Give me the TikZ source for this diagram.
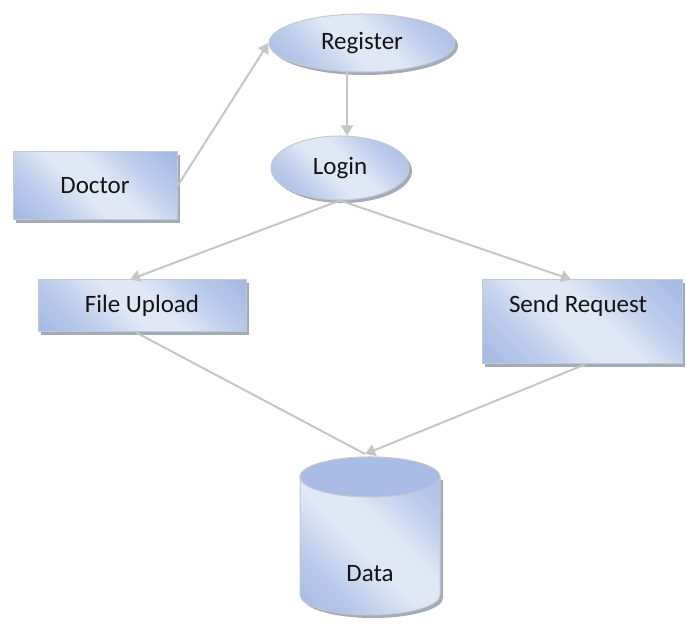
\documentclass[tikz,border=0pt]{standalone}
\usepackage{fontspec}
\setmainfont{Carlito}
\usetikzlibrary{shapes.geometric,arrows.meta,shadows}
\definecolor{blueD}{HTML}{8CA7DC}
\definecolor{blueL}{HTML}{E0E8F6}
\definecolor{capc}{HTML}{A8BCE6}
\definecolor{edgec}{HTML}{C4C8D0}
\definecolor{shadowc}{HTML}{A3ABBB}
\definecolor{linec}{HTML}{C6C6C6}
\pgfdeclareverticalshading{officegrad}{100bp}{color(0bp)=(blueD); color(30bp)=(blueD!45!blueL); color(45bp)=(blueL); color(55bp)=(blueL); color(70bp)=(blueD!45!blueL); color(100bp)=(blueD)}
\tikzset{
  office/.style={draw=edgec, line width=1pt, shading=officegrad, shading angle=-45,
     drop shadow={shadow xshift=3pt, shadow yshift=-3pt, fill=shadowc, opacity=1},
     font=\fontsize{25}{30}\selectfont, text=black!92, inner sep=0pt},
  boxnode/.style={office, rectangle},
  ovalnode/.style={office, ellipse},
  conn/.style={draw=linec, line width=2pt},
  arr/.style={conn, -{Triangle[length=10pt,width=12pt,fill=linec]}},
  lbl/.style={font=\fontsize{25}{30}\selectfont, text=black!92, inner sep=0pt}
}
\begin{document}
\begin{tikzpicture}[x=1pt,y=1pt]
\useasboundingbox (0,0) rectangle (686,628);
% nodes
\node[ovalnode, minimum width=186pt, minimum height=58pt] (reg) at (362,585) {Register};
\node[ovalnode, minimum width=138pt, minimum height=64pt] (login) at (340,460) {Login};
\node[boxnode, minimum width=164pt, minimum height=68pt] (doctor) at (95,442) {Doctor};
\node[boxnode, minimum width=208pt, minimum height=52pt] (upload) at (142,322) {File Upload};
\node[boxnode, minimum width=200pt, minimum height=84pt] (request) at (582,306) {};
\node[lbl] (reqtext) at (578,322) {Send Request};
% cylinder
\fill[shadowc] (303,148) -- (303,30) arc[start angle=180,end angle=360,x radius=70,y radius=20] -- (443,148) -- cycle;
\path[draw=edgec, line width=1pt, shading=officegrad, shading angle=-45]
  (300,151) -- (300,33) arc[start angle=180,end angle=360,x radius=70,y radius=20] -- (440,151)
  arc[start angle=0,end angle=180,x radius=70,y radius=20] -- cycle;
\draw[edgec, line width=1pt, fill=capc] (370,151) ellipse[x radius=70, y radius=20];
\node[lbl] (data) at (370,54) {Data};
\coordinate (datatop) at (365,174);
% connectors
\draw[arr] (doctor.east) -- (reg.west);
\draw[arr] ([xshift=-15pt]reg.south) -- ([xshift=-15pt]reg.south |- login.north);
\draw[arr] (login.south) -- ([xshift=-12pt]upload.north);
\draw[arr] (login.south) -- ([xshift=-11pt]request.north);
\draw[conn] ([xshift=-6pt]upload.south) -- (datatop);
\draw[arr] ([xshift=3pt]request.south) -- (datatop);
\end{tikzpicture}
\end{document}
